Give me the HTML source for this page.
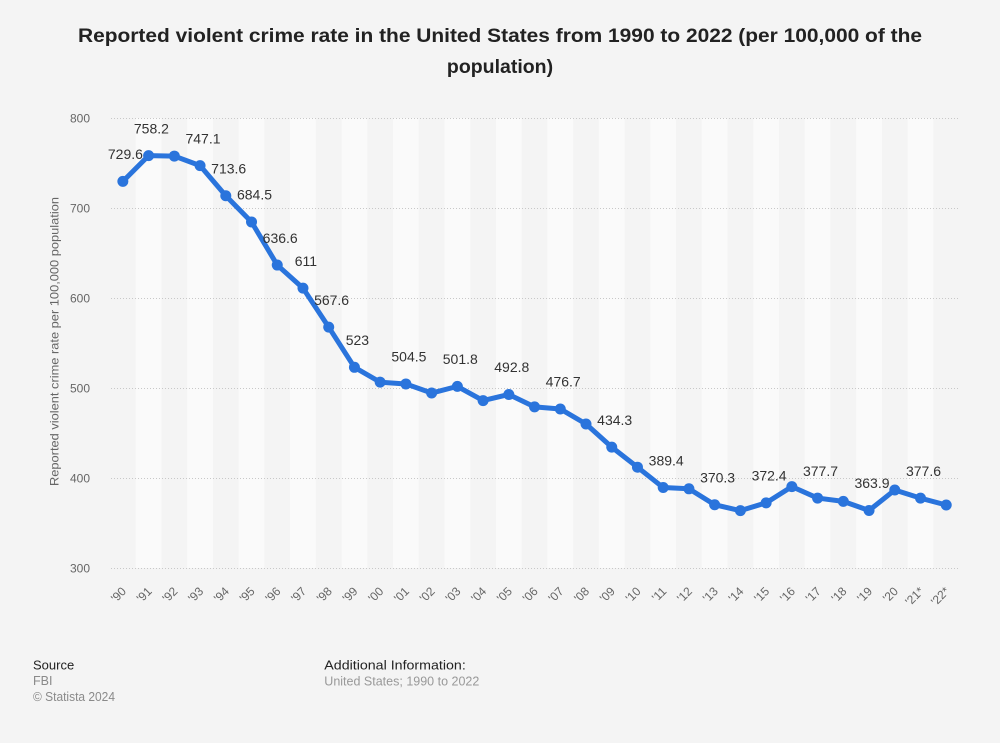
<!DOCTYPE html>
<html><head><meta charset="utf-8">
<style>
html,body{margin:0;padding:0;background:#f4f4f4;}
svg{display:block;font-family:"Liberation Sans",Arial,sans-serif;}
</style></head>
<body>
<svg width="1000" height="743" viewBox="0 0 1000 743" xmlns="http://www.w3.org/2000/svg">
<rect x="0" y="0" width="1000" height="743" fill="#f4f4f4"/>
<!-- title -->
<text x="500" y="42" text-anchor="middle" font-size="19.5" font-weight="bold" fill="#222" textLength="844" lengthAdjust="spacingAndGlyphs">Reported violent crime rate in the United States from 1990 to 2022 (per 100,000 of the</text>
<text x="500" y="73" text-anchor="middle" font-size="19.5" font-weight="bold" fill="#222">population)</text>

<!-- bands -->
<g fill="#fafafa">
<rect x="135.73" y="118" width="25.73" height="450"/>
<rect x="187.19" y="118" width="25.73" height="450"/>
<rect x="238.65" y="118" width="25.73" height="450"/>
<rect x="290.11" y="118" width="25.73" height="450"/>
<rect x="341.57" y="118" width="25.73" height="450"/>
<rect x="393.03" y="118" width="25.73" height="450"/>
<rect x="444.49" y="118" width="25.73" height="450"/>
<rect x="495.95" y="118" width="25.73" height="450"/>
<rect x="547.41" y="118" width="25.73" height="450"/>
<rect x="598.87" y="118" width="25.73" height="450"/>
<rect x="650.33" y="118" width="25.73" height="450"/>
<rect x="701.79" y="118" width="25.73" height="450"/>
<rect x="753.25" y="118" width="25.73" height="450"/>
<rect x="804.71" y="118" width="25.73" height="450"/>
<rect x="856.17" y="118" width="25.73" height="450"/>
<rect x="907.63" y="118" width="25.73" height="450"/>
</g>

<!-- gridlines -->
<g stroke="#c8c8c8" stroke-width="1" stroke-dasharray="1,2">
<line x1="111" y1="118.5" x2="959" y2="118.5"/>
<line x1="111" y1="208.5" x2="959" y2="208.5"/>
<line x1="111" y1="298.5" x2="959" y2="298.5"/>
<line x1="111" y1="388.5" x2="959" y2="388.5"/>
<line x1="111" y1="478.5" x2="959" y2="478.5"/>
<line x1="111" y1="568.5" x2="959" y2="568.5"/>
</g>

<!-- y ticks -->
<g font-size="12" fill="#666" text-anchor="end">
<text x="90" y="122.5">800</text>
<text x="90" y="212.5">700</text>
<text x="90" y="302.5">600</text>
<text x="90" y="392.5">500</text>
<text x="90" y="482.5">400</text>
<text x="90" y="572.5">300</text>
</g>
<text transform="translate(58.5,341.5) rotate(-90)" text-anchor="middle" font-size="12" fill="#666" textLength="289" lengthAdjust="spacingAndGlyphs">Reported violent crime rate per 100,000 population</text>

<!-- x ticks -->
<g font-size="12" fill="#666" text-anchor="end">
<text transform="translate(126.9,592) rotate(-45)">'90</text>
<text transform="translate(152.6,592) rotate(-45)">'91</text>
<text transform="translate(178.3,592) rotate(-45)">'92</text>
<text transform="translate(204.1,592) rotate(-45)">'93</text>
<text transform="translate(229.8,592) rotate(-45)">'94</text>
<text transform="translate(255.5,592) rotate(-45)">'95</text>
<text transform="translate(281.3,592) rotate(-45)">'96</text>
<text transform="translate(307,592) rotate(-45)">'97</text>
<text transform="translate(332.7,592) rotate(-45)">'98</text>
<text transform="translate(358.4,592) rotate(-45)">'99</text>
<text transform="translate(384.2,592) rotate(-45)">'00</text>
<text transform="translate(409.9,592) rotate(-45)">'01</text>
<text transform="translate(435.6,592) rotate(-45)">'02</text>
<text transform="translate(461.4,592) rotate(-45)">'03</text>
<text transform="translate(487.1,592) rotate(-45)">'04</text>
<text transform="translate(512.8,592) rotate(-45)">'05</text>
<text transform="translate(538.6,592) rotate(-45)">'06</text>
<text transform="translate(564.3,592) rotate(-45)">'07</text>
<text transform="translate(590,592) rotate(-45)">'08</text>
<text transform="translate(615.7,592) rotate(-45)">'09</text>
<text transform="translate(641.5,592) rotate(-45)">'10</text>
<text transform="translate(667.2,592) rotate(-45)">'11</text>
<text transform="translate(692.9,592) rotate(-45)">'12</text>
<text transform="translate(718.7,592) rotate(-45)">'13</text>
<text transform="translate(744.4,592) rotate(-45)">'14</text>
<text transform="translate(770.1,592) rotate(-45)">'15</text>
<text transform="translate(795.9,592) rotate(-45)">'16</text>
<text transform="translate(821.6,592) rotate(-45)">'17</text>
<text transform="translate(847.3,592) rotate(-45)">'18</text>
<text transform="translate(873,592) rotate(-45)">'19</text>
<text transform="translate(898.8,592) rotate(-45)">'20</text>
<text transform="translate(924.5,592) rotate(-45)">'21*</text>
<text transform="translate(950.2,592) rotate(-45)">'22*</text>
</g>

<!-- line -->
<polyline fill="none" stroke="#2a74dc" stroke-width="5" stroke-linejoin="round" stroke-linecap="round" points="122.87,181.36 148.6,155.62 174.33,156.07 200.06,165.61 225.79,195.76 251.52,221.95 277.25,265.06 302.98,288.1 328.71,327.16 354.44,367.3 380.17,382.15 405.9,383.95 431.63,393.04 457.36,386.38 483.09,400.6 508.82,394.48 534.55,406.9 560.28,408.97 586.01,424 611.74,447.13 637.47,467.2 663.2,487.54 688.93,488.8 714.66,504.73 740.39,510.67 766.12,502.84 791.85,486.64 817.58,498.07 843.31,501.4 869.04,510.49 894.77,489.97 920.5,498.16 946.23,505"/>
<g fill="#2a74dc">
<circle cx="122.87" cy="181.36" r="5.5"/>
<circle cx="148.6" cy="155.62" r="5.5"/>
<circle cx="174.33" cy="156.07" r="5.5"/>
<circle cx="200.06" cy="165.61" r="5.5"/>
<circle cx="225.79" cy="195.76" r="5.5"/>
<circle cx="251.52" cy="221.95" r="5.5"/>
<circle cx="277.25" cy="265.06" r="5.5"/>
<circle cx="302.98" cy="288.1" r="5.5"/>
<circle cx="328.71" cy="327.16" r="5.5"/>
<circle cx="354.44" cy="367.3" r="5.5"/>
<circle cx="380.17" cy="382.15" r="5.5"/>
<circle cx="405.9" cy="383.95" r="5.5"/>
<circle cx="431.63" cy="393.04" r="5.5"/>
<circle cx="457.36" cy="386.38" r="5.5"/>
<circle cx="483.09" cy="400.6" r="5.5"/>
<circle cx="508.82" cy="394.48" r="5.5"/>
<circle cx="534.55" cy="406.9" r="5.5"/>
<circle cx="560.28" cy="408.97" r="5.5"/>
<circle cx="586.01" cy="424" r="5.5"/>
<circle cx="611.74" cy="447.13" r="5.5"/>
<circle cx="637.47" cy="467.2" r="5.5"/>
<circle cx="663.2" cy="487.54" r="5.5"/>
<circle cx="688.93" cy="488.8" r="5.5"/>
<circle cx="714.66" cy="504.73" r="5.5"/>
<circle cx="740.39" cy="510.67" r="5.5"/>
<circle cx="766.12" cy="502.84" r="5.5"/>
<circle cx="791.85" cy="486.64" r="5.5"/>
<circle cx="817.58" cy="498.07" r="5.5"/>
<circle cx="843.31" cy="501.4" r="5.5"/>
<circle cx="869.04" cy="510.49" r="5.5"/>
<circle cx="894.77" cy="489.97" r="5.5"/>
<circle cx="920.5" cy="498.16" r="5.5"/>
<circle cx="946.23" cy="505" r="5.5"/>
</g>

<!-- data labels -->
<g font-size="14" fill="#333" text-anchor="middle">
<text x="125.4" y="159">729.6</text>
<text x="151.4" y="133.3">758.2</text>
<text x="203" y="143.3">747.1</text>
<text x="228.7" y="173.5">713.6</text>
<text x="254.5" y="199.6">684.5</text>
<text x="280.2" y="242.8">636.6</text>
<text x="305.9" y="265.8">611</text>
<text x="331.6" y="304.9">567.6</text>
<text x="357.4" y="345">523</text>
<text x="408.9" y="361.7">504.5</text>
<text x="460.3" y="364.1">501.8</text>
<text x="511.8" y="372.2">492.8</text>
<text x="563.2" y="386.7">476.7</text>
<text x="614.7" y="424.8">434.3</text>
<text x="666.2" y="465.3">389.4</text>
<text x="717.6" y="482.4">370.3</text>
<text x="769.1" y="480.6">372.4</text>
<text x="820.5" y="475.8">377.7</text>
<text x="872" y="488.2">363.9</text>
<text x="923.5" y="475.9">377.6</text>
</g>

<!-- footer -->
<text x="33" y="669.5" font-size="13" fill="#222">Source</text>
<text x="33" y="685" font-size="12.5" fill="#8a8a8a">FBI</text>
<text x="33" y="701" font-size="12.5" fill="#8a8a8a" textLength="82" lengthAdjust="spacingAndGlyphs">© Statista 2024</text>
<text x="324.3" y="669.5" font-size="13" fill="#222" textLength="141.5" lengthAdjust="spacingAndGlyphs">Additional Information:</text>
<text x="324.3" y="685.5" font-size="12.5" fill="#999" textLength="155" lengthAdjust="spacing">United States; 1990 to 2022</text>
</svg>
</body></html>
